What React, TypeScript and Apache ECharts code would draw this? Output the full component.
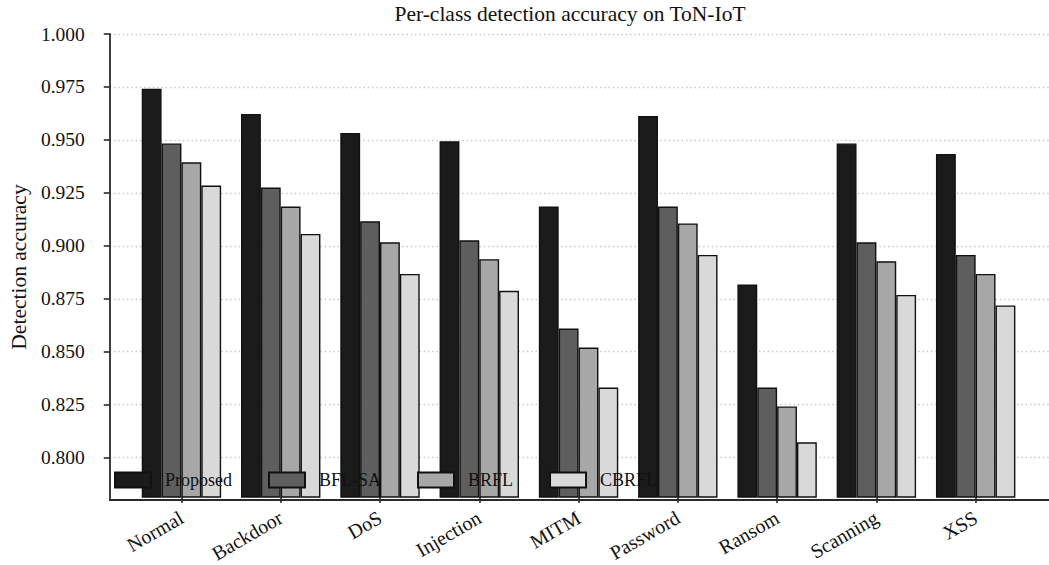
import React, { useEffect, useRef } from "react";
import * as echarts from "echarts";

const categories = ["Normal", "Backdoor", "DoS", "Injection", "MITM", "Password", "Ransom", "Scanning", "XSS"];
const proposed = [0.974, 0.962, 0.953, 0.949, 0.918, 0.961, 0.881, 0.948, 0.943];
const bflSa = [0.948, 0.927, 0.911, 0.902, 0.86, 0.918, 0.832, 0.901, 0.895];
const brfl = [0.939, 0.918, 0.901, 0.893, 0.851, 0.91, 0.823, 0.892, 0.886];
const cbrfl = [0.928, 0.905, 0.886, 0.878, 0.832, 0.895, 0.806, 0.876, 0.871];
const yTicks = [0.8, 0.825, 0.85, 0.875, 0.9, 0.925, 0.95, 0.975, 1.0];
const seriesNames = ["Proposed", "BFL-SA", "BRFL", "CBRFL"];
const seriesColors = ["#1b1b1b", "#5e5e5e", "#a7a7a7", "#d9d9d9"];

const FONT = "'Liberation Serif', 'DejaVu Serif', serif";

export default function App() {
  const ref = useRef<HTMLDivElement>(null);
  useEffect(() => {
    if (!ref.current) return;
    const chart = echarts.init(ref.current, null, { renderer: "svg" });
    const values = [proposed, bflSa, brfl, cbrfl];
    const option: any = {
      animation: false,
      backgroundColor: "#ffffff",
      title: {
        text: "Per-class detection accuracy on ToN-IoT",
        left: 570,
        top: 3,
        padding: 0,
        textAlign: "center",
        textStyle: { fontFamily: FONT, fontSize: 21.5, fontWeight: "normal", color: "#111" },
      },
      legend: {
        data: seriesNames,
        left: 114,
        top: 471,
        padding: 0,
        itemWidth: 36,
        itemHeight: 15,
        itemGap: 36,
        icon: "rect",
        textStyle: { fontFamily: FONT, fontSize: 18, color: "#111", padding: [0, 0, 0, 9] },
      },
      grid: [
        { left: 98, right: -10, top: 34, bottom: 65 },
        { left: 131.8, width: 893.5, top: 34, bottom: 65 },
      ],
      xAxis: [
        {
          type: "value",
          gridIndex: 0,
          min: 0,
          max: 1,
          axisLine: { show: true, lineStyle: { color: "#2a2a2a", width: 1.8 } },
          axisTick: { show: false },
          axisLabel: { show: false },
          splitLine: { show: false },
        },
        {
          type: "category",
          gridIndex: 1,
          data: categories,
          axisLine: { show: false },
          axisTick: { show: true, alignWithLabel: true, length: 6, lineStyle: { color: "#2a2a2a", width: 1.6 } },
          axisLabel: {
            rotate: 30,
            margin: 19,
            interval: 0,
            fontFamily: FONT,
            fontSize: 20,
            color: "#111",
          },
          splitLine: { show: false },
        },
      ],
      yAxis: [
        {
          type: "value",
          gridIndex: 0,
          min: 0.78,
          max: 1.0,
          name: "Detection accuracy",
          nameLocation: "middle",
          nameGap: 77,
          nameTextStyle: { fontFamily: FONT, fontSize: 21.5, color: "#111" },
          axisLine: { show: true, lineStyle: { color: "#2a2a2a", width: 1.8 } },
          axisTick: { show: true, length: 6, customValues: yTicks, lineStyle: { color: "#2a2a2a", width: 1.6 } },
          axisLabel: {
            customValues: yTicks,
            margin: 15,
            padding: [0, 10, 0, 0],
            fontFamily: FONT,
            fontSize: 19.5,
            color: "#111",
            formatter: (v: number) => v.toFixed(3),
          },
          splitLine: { show: true, lineStyle: { color: "#c4c4c4", width: 1.3, type: [1.4, 2.9] } },
        },
        {
          type: "value",
          gridIndex: 1,
          min: 0.78,
          max: 1.0,
          axisLine: { show: false },
          axisTick: { show: false },
          axisLabel: { show: false },
          splitLine: { show: false },
        },
      ],
      series: seriesNames.map((name, i) => ({
        name,
        type: "bar",
        xAxisIndex: 1,
        yAxisIndex: 1,
        data: values[i],
        barWidth: "20%",
        barGap: "0%",
        itemStyle: { color: seriesColors[i], borderColor: "#111", borderWidth: 1.4 },
      })),
    };
    chart.setOption(option);
    return () => chart.dispose();
  }, []);
  return (
    <div
      ref={ref}
      style={{ position: "fixed", left: 0, top: 0, width: 1049, height: 565, background: "#fff" }}
    />
  );
}
